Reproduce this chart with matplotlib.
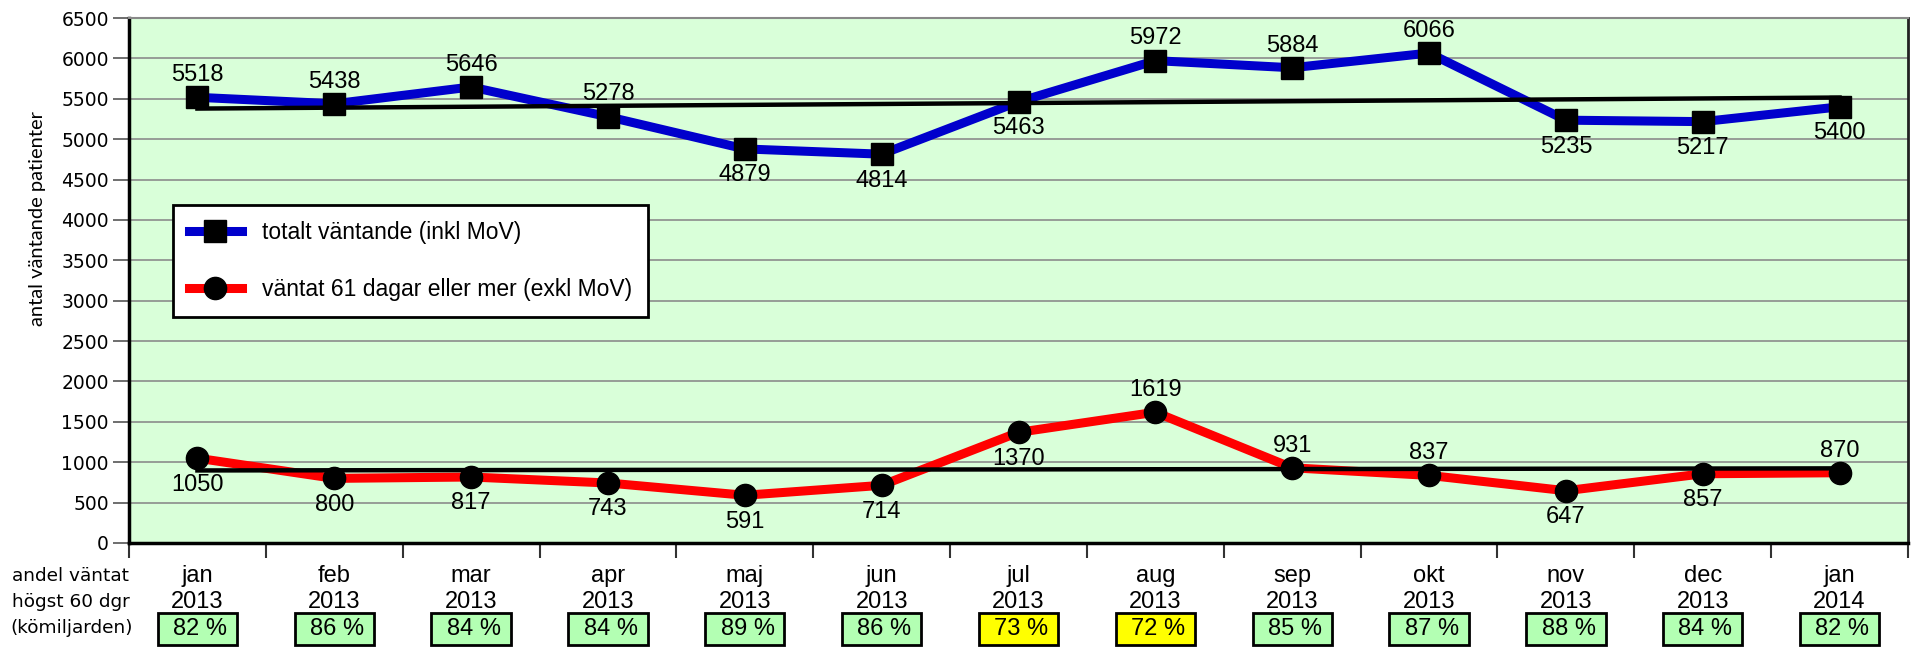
import numpy as np
import matplotlib.pyplot as plt
from matplotlib.patches import Rectangle
from matplotlib.lines import Line2D

plt.rcParams['font.family'] = ['Liberation Sans', 'DejaVu Sans']

# ── data ─────────────────────────────────────────
months = ["jan", "feb", "mar", "apr", "maj", "jun", "jul", "aug", "sep", "okt", "nov", "dec", "jan"]
years = ["2013"] * 12 + ["2014"]
totalt = [5518, 5438, 5646, 5278, 4879, 4814, 5463, 5972, 5884, 6066, 5235, 5217, 5400]
over60 = [1050, 800, 817, 743, 591, 714, 1370, 1619, 931, 837, 647, 857, 870]
andel = [82, 86, 84, 84, 89, 86, 73, 72, 85, 87, 88, 84, 82]
# label placement: 1 = above the point, -1 = below
totalt_pos = [1, 1, 1, 1, -1, -1, -1, 1, 1, 1, -1, -1, -1]
over60_pos = [-1, -1, -1, -1, -1, -1, -1, 1, 1, 1, -1, -1, 1]

BG = "#d9ffd9"
BOX_OK = "#b3ffb3"
BOX_LOW = "#ffff00"

x = np.arange(len(months))

fig = plt.figure(figsize=(19.17, 6.53), dpi=100)
ax = fig.add_axes([129 / 1917, 1 - 543 / 653, 1779 / 1917, 525 / 653])
ax.set_facecolor(BG)

# series lines
ax.plot(x, totalt, color="#0000cc", lw=6.5, zorder=3, solid_capstyle="butt")
ax.plot(x, over60, color="#ff0000", lw=6.5, zorder=3, solid_capstyle="butt")

# linear trends
for ser in (totalt, over60):
    k, m = np.polyfit(x, ser, 1)
    ax.plot(x[[0, -1]], k * x[[0, -1]] + m, color="black", lw=3.2, zorder=4)

# markers
ax.plot(x, totalt, ls="none", marker="s", ms=16, color="black", zorder=5)
ax.plot(x, over60, ls="none", marker="o", ms=16, color="black", zorder=5)

# value labels
for ser, pos in ((totalt, totalt_pos), (over60, over60_pos)):
    for xi, v, p in zip(x, ser, pos):
        ax.annotate(str(v), (xi, v), xytext=(0, 16 if p > 0 else -19),
                    textcoords="offset points", ha="center", va="center",
                    fontsize=17, zorder=6)

ax.set_xlim(-0.5, 12.5)
ax.set_ylim(0, 6500)
ax.set_yticks(np.arange(0, 6501, 500))
ax.yaxis.grid(True, color="#8c8c8c", lw=1.2)
ax.set_axisbelow(True)
ax.tick_params(axis="y", labelsize=13.5, length=11.5, width=1.2, color="#555555", pad=3)
for lab in ax.get_yticklabels():
    lab.set_family("DejaVu Sans")

ax.set_xticks(np.arange(-0.5, 13, 1))
ax.set_xticklabels([])
ax.tick_params(axis="x", length=11, width=1.5, color="#333333")

for side in ("left", "bottom"):
    ax.spines[side].set_linewidth(2.5)
    ax.spines[side].set_color("black")
ax.spines["right"].set_linewidth(2)
ax.spines["right"].set_color("#222222")
ax.spines["top"].set_linewidth(1.5)
ax.spines["top"].set_color("#888888")

# month labels and share boxes under the axis
trans = ax.get_xaxis_transform()
for xi, mo, yr, a in zip(x, months, years, andel):
    ax.text(xi, -0.062, mo, transform=trans, ha="center", va="center", fontsize=17)
    ax.text(xi, -0.113, yr, transform=trans, ha="center", va="center", fontsize=17)
    ax.add_patch(Rectangle((xi - 0.29, -0.195), 0.58, 0.061, transform=trans,
                           facecolor=BOX_LOW if a < 80 else BOX_OK,
                           edgecolor="black", lw=2, clip_on=False))
    ax.text(xi + 0.02, -0.164, f"{a} %", transform=trans, ha="center", va="center",
            fontsize=17)

side_font = dict(ha="left", va="center", fontsize=13.3, family="DejaVu Sans")
fig.text(12 / 1917, 1 - 576 / 653, "andel väntat", **side_font)
fig.text(12 / 1917, 1 - 602 / 653, "högst 60 dgr", **side_font)
fig.text(10 / 1917, 1 - 628 / 653, "(kömiljarden)", **side_font)

fig.text(37 / 1917, 1 - 218 / 653, "antal väntande patienter", rotation=90,
         ha="center", va="center", fontsize=14.5, family=["Lato", "DejaVu Sans"])

# legend
handles = [
    Line2D([], [], color="#0000cc", lw=6.5, marker="s", ms=16, mfc="black", mec="black"),
    Line2D([], [], color="#ff0000", lw=6.5, marker="o", ms=16, mfc="black", mec="black"),
]
leg = ax.legend(handles, ["totalt väntande (inkl MoV)", "väntat 61 dagar eller mer (exkl MoV)"],
                loc="upper left", bbox_to_anchor=(0.0247, 0.644), fontsize=16.5,
                frameon=True, fancybox=False, framealpha=1, edgecolor="black",
                handlelength=2.3, handletextpad=0.9, labelspacing=1.5,
                borderpad=0.7, borderaxespad=0)
leg.get_frame().set_linewidth(2)
leg.set_zorder(7)

fig.savefig("out.png", dpi=100)
